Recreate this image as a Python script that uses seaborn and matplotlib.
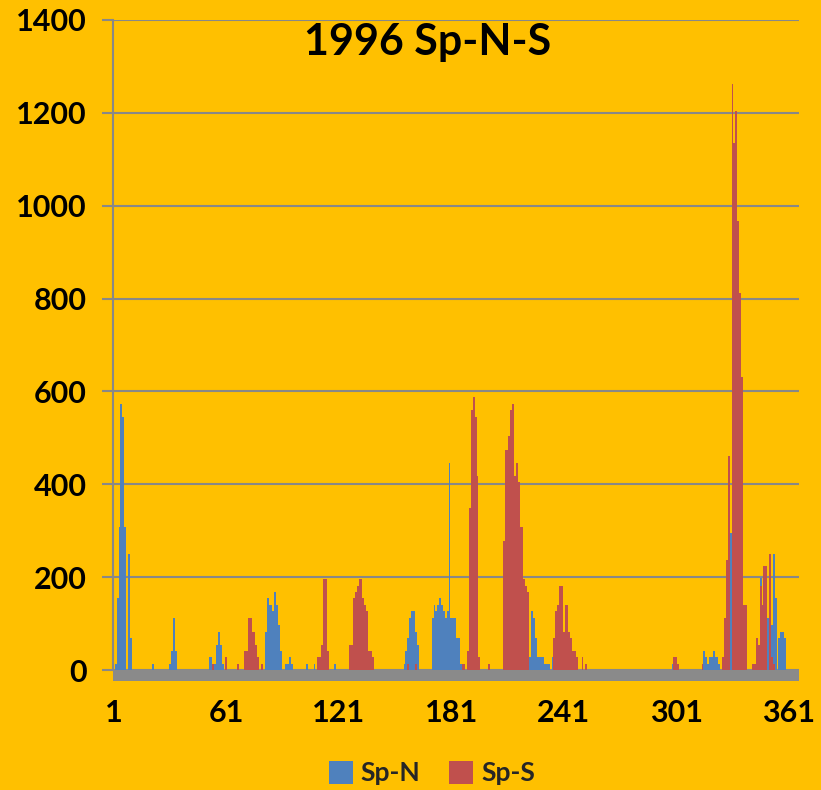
import numpy as np
import pandas as pd
import matplotlib
matplotlib.use("Agg")
import matplotlib.pyplot as plt
from matplotlib.patches import Rectangle
import seaborn as sns

# ---- data: daily counts for 1996 (leap year, 366 days) ----
n_days = 366

spn_days = [2, 3, 4, 5, 6, 7, 9, 10,
            22, 31, 32, 33, 34,
            52, 53, 54, 55, 56, 57, 58, 59,
            82, 83, 84, 85, 86, 87, 88, 89, 90,
            93, 94, 95, 96, 104, 108, 119,
            156, 157, 158, 159, 160, 161, 162, 163,
            171, 172, 173, 174, 175, 176, 177, 178, 179, 180,
            181, 182, 183, 184, 185, 186,
            223, 224, 225, 226, 227, 228, 229, 230, 231, 232, 233, 235,
            299, 316, 317, 318, 319, 320, 321, 322, 323, 324,
            327, 330, 346, 350, 351, 352, 353, 354, 356, 357, 358, 359]
spn_counts = [13, 155, 308, 573, 545, 308, 250, 69,
              13, 13, 41, 112, 41,
              28, 28, 13, 13, 54, 82, 54, 13,
              82, 155, 140, 140, 127, 168, 140, 97, 41,
              13, 13, 28, 13, 13, 13, 13,
              13, 41, 69, 112, 127, 127, 82, 54,
              112, 140, 127, 140, 155, 140, 127, 112, 127, 446,
              112, 112, 112, 69, 69, 13,
              28, 127, 112, 69, 28, 28, 28, 28, 13, 13, 13, 28,
              13, 41, 28, 13, 28, 28, 41, 28, 28, 13,
              112, 296, 199, 112, 97, 97, 250, 155, 69, 82, 82, 69]

sps_days = [54, 61, 67,
            71, 72, 73, 74, 75, 76, 77, 78, 80,
            110, 111, 112, 113, 114, 115,
            127, 128, 129, 130, 131, 132, 133, 134, 135, 136, 137, 138, 139,
            158, 162, 187, 188,
            190, 191, 192, 193, 194, 195, 196, 201,
            209, 210, 211, 212, 213, 214, 215, 216, 217, 218, 219, 220, 221, 222,
            236, 237, 238, 239, 240, 241, 242, 243, 244, 245, 246, 247, 248,
            251, 253,
            300, 301, 302, 315,
            326, 327, 328, 329, 331, 332, 333, 334, 335, 336, 337, 338,
            342, 343, 344, 345, 346, 347, 348, 349, 351, 352, 353]
sps_counts = [13, 28, 13,
              41, 41, 112, 112, 82, 82, 54, 28, 13,
              28, 28, 54, 196, 196, 41,
              54, 54, 155, 168, 181, 196, 196, 155, 140, 127, 41, 41, 28,
              13, 13, 13, 13,
              41, 349, 560, 588, 545, 418, 28, 13,
              278, 474, 474, 504, 560, 573, 418, 446, 405, 308, 308, 196, 181, 168,
              69, 127, 140, 181, 181, 82, 140, 140, 82, 69, 41, 41, 28,
              28, 13,
              28, 28, 13, 13,
              28, 112, 238, 462, 1263, 1136, 1205, 967, 812, 631, 141, 141,
              13, 13, 69, 54, 180, 141, 224, 224, 250, 28, 13]

series_names = ["Sp-N", "Sp-S"]
series_colors = ["#4F81BD", "#C0504D"]
x_tick_days = [1, 61, 121, 181, 241, 301, 361]
y_ticks = [0, 200, 400, 600, 800, 1000, 1200, 1400]
title_text = "1996 Sp-N-S"

# ---- long-form table ----
days = np.arange(1, n_days + 1)
spn_full = np.zeros(n_days)
spn_full[np.array(spn_days) - 1] = spn_counts
sps_full = np.zeros(n_days)
sps_full[np.array(sps_days) - 1] = sps_counts

df = pd.concat([
    pd.DataFrame({"day": days, "count": spn_full, "series": series_names[0]}),
    pd.DataFrame({"day": days, "count": sps_full, "series": series_names[1]}),
], ignore_index=True)

# ---- style ----
bg = "#FFC000"
grey = "#888888"
sns.set_theme(style="white", rc={
    "figure.facecolor": bg,
    "axes.facecolor": bg,
    "savefig.facecolor": bg,
})
plt.rcParams["font.family"] = ["Lato", "DejaVu Sans"]
plt.rcParams["font.weight"] = "bold"

W, H = 821, 790
fig = plt.figure(figsize=(W / 100, H / 100), dpi=100)
left, right, top, bottom = 113, 799, 20, 670
ax = fig.add_axes([left / W, 1 - bottom / H, (right - left) / W, (bottom - top) / H])

# overlapping columns: Sp-S is drawn over Sp-N on the same day
sns.barplot(data=df, x="day", y="count", hue="series",
            hue_order=series_names, palette=dict(zip(series_names, series_colors)),
            order=list(days), dodge=False, width=1.0, saturation=1,
            linewidth=0, errorbar=None, antialiased=False, ax=ax)

ax.set_xlim(-0.5, n_days - 0.5)
ax.set_ylim(0, 1400)
ax.set_xlabel("")
ax.set_ylabel("")

# axes furniture
ax.set_axisbelow(True)
ax.yaxis.grid(True, color=grey, linewidth=1.5)
ax.xaxis.grid(False)
for s in ["top", "right", "bottom"]:
    ax.spines[s].set_visible(False)
ax.spines["left"].set_color(grey)
ax.spines["left"].set_linewidth(1.5)

ax.set_yticks(y_ticks)
ax.set_yticklabels([str(v) for v in y_ticks], fontsize=22, fontweight="bold", color="black")
ax.tick_params(axis="y", length=8, width=1.5, color=grey, pad=11, direction="out", left=True)

ax.set_xticks([d - 1 for d in x_tick_days])
ax.set_xticklabels([str(d) for d in x_tick_days], fontsize=22, fontweight="bold", color="black")
ax.tick_params(axis="x", length=0, pad=21, bottom=True)

# grey category-axis band under the plot area
band_h = 11 / (bottom - top)
ax.add_patch(Rectangle((0, -band_h), 1, band_h, transform=ax.transAxes,
                       facecolor="#8A8A8A", edgecolor="none", clip_on=False, zorder=3))

# title
fig.text(428 / W, 1 - 42 / H, title_text, fontsize=31, fontweight="bold",
         ha="center", va="center", color="black")

# legend
handles, labels = ax.get_legend_handles_labels()
if ax.get_legend() is not None:
    ax.get_legend().remove()
fig.legend(handles, labels, loc="center", bbox_to_anchor=(432 / W, 1 - 773 / H),
           ncol=2, frameon=False, handlelength=0.9, handleheight=0.95,
           handletextpad=0.3, columnspacing=1.1,
           prop={"size": 19, "weight": "bold", "family": ["Lato", "DejaVu Sans"]})

fig.savefig("out.png", dpi=100)
